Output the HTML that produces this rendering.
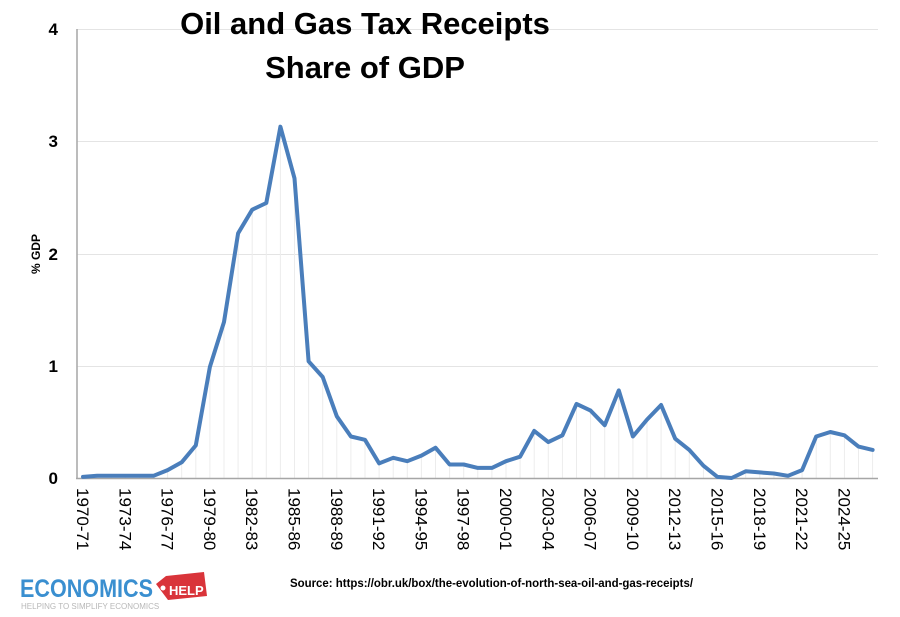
<!DOCTYPE html>
<html><head><meta charset="utf-8"><style>
body{margin:0;background:#fff;}
svg{display:block;font-family:"Liberation Sans",Arial,sans-serif;}
</style></head><body>
<svg width="900" height="617" viewBox="0 0 900 617" xmlns="http://www.w3.org/2000/svg">
<rect width="900" height="617" fill="#fff"/>
<g stroke="#e4e4e4" stroke-width="1">
<line x1="77" y1="29.5" x2="878" y2="29.5"/>
<line x1="77" y1="141.5" x2="878" y2="141.5"/>
<line x1="77" y1="254.5" x2="878" y2="254.5"/>
<line x1="77" y1="366.5" x2="878" y2="366.5"/>
</g>
<g id="drops" stroke="#ececec" stroke-width="1"></g>
<line x1="77" y1="29" x2="77" y2="479" stroke="#a6a6a6" stroke-width="1.5"/>
<line x1="76" y1="478.5" x2="878" y2="478.5" stroke="#a6a6a6" stroke-width="1.5"/>
<g font-size="17" font-weight="bold" text-anchor="end" fill="#000">
<text x="58" y="35">4</text><text x="58" y="147">3</text><text x="58" y="260">2</text><text x="58" y="372">1</text><text x="58" y="484">0</text>
</g>
<text transform="translate(40,254) rotate(-90)" font-size="12" font-weight="bold" text-anchor="middle">% GDP</text>
<text x="365" y="34" font-size="31" font-weight="bold" text-anchor="middle">Oil and Gas Tax Receipts</text>
<text x="365" y="78" font-size="31" font-weight="bold" text-anchor="middle">Share of GDP</text>
<g id="labels" font-size="17" fill="#000"></g>
<polyline id="line" fill="none" stroke="#4a7ebb" stroke-width="4" stroke-linejoin="round" stroke-linecap="round"/>
<text x="290" y="587" font-size="12" font-weight="bold" textLength="403" lengthAdjust="spacingAndGlyphs">Source: https://obr.uk/box/the-evolution-of-north-sea-oil-and-gas-receipts/</text>
<text x="20" y="597" font-size="25" font-weight="bold" fill="#3a8fd0" textLength="133" lengthAdjust="spacingAndGlyphs">ECONOMICS</text>
<path d="M156 584 L166 576 L204 572 L207 596 L168 600 Z" fill="#d9343a"/>
<circle cx="163" cy="588" r="2.5" fill="#fff"/>
<text x="169" y="595" font-size="13" font-weight="bold" fill="#fff">HELP</text>
<text x="21" y="609" font-size="8" fill="#b8b8b8">HELPING TO SIMPLIFY ECONOMICS</text>
</svg>
<script>
var v=[0.01,0.02,0.02,0.02,0.02,0.02,0.07,0.14,0.29,0.99,1.39,2.18,2.39,2.45,3.13,2.67,1.04,0.9,0.55,0.37,0.34,0.13,0.18,0.15,0.2,0.27,0.12,0.12,0.09,0.09,0.15,0.19,0.42,0.32,0.38,0.66,0.6,0.47,0.78,0.37,0.52,0.65,0.35,0.25,0.11,0.01,0,0.06,0.05,0.04,0.02,0.07,0.37,0.41,0.38,0.28,0.25];
var ns="http://www.w3.org/2000/svg",pts=[],d=document.getElementById('drops'),lb=document.getElementById('labels');
for(var i=0;i<v.length;i++){var x=83+i*14.1,y=478-v[i]*112.25;pts.push(x.toFixed(1)+","+y.toFixed(1));
var l=document.createElementNS(ns,'line');l.setAttribute('x1',x);l.setAttribute('x2',x);l.setAttribute('y1',y);l.setAttribute('y2',478);d.appendChild(l);
if(i%3==0){var yr=1970+i,s=yr+"-"+String((yr+1)%100).padStart(2,'0');var t=document.createElementNS(ns,'text');t.setAttribute('transform','translate('+(x-6)+',488) rotate(90)');t.textContent=s;lb.appendChild(t);}}
document.getElementById('line').setAttribute('points',pts.join(' '));
</script>
</body></html>
